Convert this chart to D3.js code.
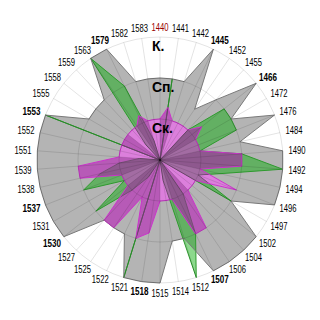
<!DOCTYPE html>
<html>
<head>
<meta charset="utf-8">
<script src="https://cdn.jsdelivr.net/npm/d3@7"></script>
<style>
  body { margin: 0; background: #fff; }
  text { font-family: "Liberation Sans", Arial, sans-serif; }
</style>
</head>
<body>
<div id="chart"></div>
<script>
// categories, clockwise from the top
let years = ["1440", "1441", "1442", "1445", "1452", "1455", "1466", "1472", "1476", "1484",
    "1490", "1492", "1494", "1496", "1497", "1502", "1504", "1506", "1507", "1512",
    "1514", "1515", "1518", "1521", "1522", "1525", "1527", "1530", "1531", "1537",
    "1538", "1539", "1551", "1552", "1553", "1555", "1558", "1559", "1563", "1579",
    "1582", "1583"]
let boldYears = ["1445", "1466", "1507", "1518", "1530", "1537", "1553", "1579"]
let redYears = ["1440"]

// radial axis levels
let levelNames = ["Ск.", "Сп.", "К."]

// К. (gray) - outer edge and inner edge of the band
let kOuter = [2, 2, 2, 3, 1.5, 2, 3, 2, 3, 2,
    3, 3, 3, 3, 2, 3, 3, 3, 3, 2,
    2, 3, 3, 3, 2, 2, 2, 3, 3, 3,
    3, 3, 3, 3, 3, 2, 2, 2, 3, 3,
    2, 2]
let kInner = [1, 0, 1, 1, 1, 1, 0, 1, 1, 1,
    0, 0, 1, 2, 1, 1, 1, 0, 0, 1,
    1, 1, 0, 0, 1, 0, 0, 1, 1, 1,
    0, 0, 1, 1, 1, 0, 1, 1, 1, 0,
    1, 1]

// Сп. (green)
let spValues = [0, 2, 0, 0, 0, 1, 2, 2, 2, 1,
    2, 3, 1.5, 1, 2, 0, 0, 1, 2, 3,
    0.5, 0, 0, 3, 0, 0.5, 1, 2, 1, 2,
    1.5, 1, 0.5, 0, 3, 0, 0, 0.5, 3, 2,
    0.5, 0]

// Ск. (purple)
let skValues = [1, 1.3, 1, 1, 1, 1, 1.3, 1, 1, 1,
    2, 2, 1, 2, 1, 1, 1, 2, 2, 1,
    1, 1, 1.8, 2, 1, 2, 2, 1, 1, 1,
    2, 2, 1, 1, 1, 1, 1, 1, 1, 1.2,
    1, 1]

let width = 320,
    height = 320,
    radius = 123

let root = d3.select("#chart")
    .append("svg")
    .attr("width", width)
    .attr("height", height)
let svg = root.append("g")
    .attr("transform", "translate(160,160)")

let angle = d3.scaleLinear()
    .domain([0, years.length])
    .range([0, 2 * Math.PI])

let r = d3.scaleLinear()
    .domain([0, 3])
    .range([0, radius])

let radar = d3.lineRadial()
    .angle((d, i) => angle(i))
    .radius((d) => r(d))
    .curve(d3.curveLinearClosed)

let band = radar(kOuter) + radar(kInner)

root.append("defs")
    .append("clipPath")
    .attr("id", "skClip")
    .append("path")
    .attr("transform", "translate(160,160)")
    .attr("d", radar(skValues))

// gray band
svg.append("path")
    .attr("d", band)
    .attr("fill", "#b4b4b4")
    .attr("fill-rule", "evenodd")

// green
svg.append("path")
    .attr("d", radar(spValues))
    .attr("fill", "rgba(0,170,0,0.45)")
    .attr("stroke", "#2e9a2e")

// purple, darker where it lies on the gray band
svg.append("path")
    .attr("d", radar(skValues))
    .attr("fill", "rgba(185,0,185,0.5)")
svg.append("path")
    .attr("d", band)
    .attr("fill-rule", "evenodd")
    .attr("fill", "rgba(110,110,110,0.4)")
    .attr("clip-path", "url(#skClip)")

// outlines
svg.append("path")
    .attr("d", radar(kOuter))
    .attr("fill", "none")
    .attr("stroke", "#7a7a7a")
svg.append("path")
    .attr("d", radar(skValues))
    .attr("fill", "none")
    .attr("stroke", "#cc33cc")

// grid on top
let grid = svg.append("g")
    .attr("stroke", "rgba(0,0,0,0.11)")
    .attr("fill", "none")
grid.selectAll("circle")
    .data([1, 2, 3])
    .enter()
    .append("circle")
    .attr("r", (d) => r(d))
grid.selectAll("line")
    .data(years)
    .enter()
    .append("line")
    .attr("x2", (d, i) => r(3) * Math.sin(angle(i)))
    .attr("y2", (d, i) => -r(3) * Math.cos(angle(i)))

// level labels
svg.selectAll("levelLabels")
    .data(levelNames)
    .enter()
    .append("text")
    .attr("x", -8)
    .attr("y", (d, i) => -r(i + 1) + 13.5)
    .style("font-size", "14px")
    .style("font-weight", "bold")
    .text((d) => d)

// category labels (narrowed to the reference's width)
svg.selectAll("yearLabels")
    .data(years)
    .enter()
    .append("text")
    .style("font-size", "10px")
    .style("font-weight", (d) => boldYears.includes(d) ? "bold" : "normal")
    .style("fill", (d) => redYears.includes(d) ? "#990000" : "#000")
    .attr("text-anchor", "middle")
    .attr("dy", "0.36em")
    .text((d) => d)
    .each(function (d, i) {
        let a = angle(i)
        let w = boldYears.includes(d) ? 18 : 17
        let px = (radius + 6) * Math.sin(a),
            py = -(radius + 6) * Math.cos(a)
        d3.select(this)
            .attr("textLength", w)
            .attr("lengthAdjust", "spacingAndGlyphs")
            .attr("x", px + Math.sin(a) * w / 2)
            .attr("y", py - Math.cos(a) * 4)
    })
</script>
</body>
</html>
